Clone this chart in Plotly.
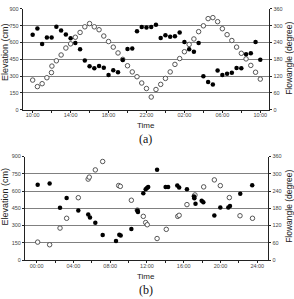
import plotly.graph_objects as go

# ---------------- data: panel (a) ----------------
a_open_time = [0, 0.5, 1, 1.5, 1.98, 2.03, 2.5, 3, 3.5, 4, 4.5, 5, 5.5, 6, 6.5, 7, 7.5, 8, 8.5, 9,
               9.5, 10, 10.5, 11, 11.5, 12, 12.5, 13, 13.5, 14, 14.5, 15, 15.5, 16, 16.5, 17, 17.5,
               18, 18.5, 19, 19.5, 20, 20.5, 21, 21.5, 22, 22.5, 23, 23.5, 24]
a_elevation = [265, 207, 233, 286, 332, 390, 437, 489, 551, 588, 647, 690, 740, 769, 740, 714, 658,
               609, 559, 507, 450, 393, 338, 295, 239, 190, 114, 181, 227, 280, 338, 405, 457, 518,
               583, 632, 697, 749, 813, 822, 786, 723, 670, 618, 559, 504, 454, 396, 335, 274]
a_fill_time = [0, 0.5, 1, 1.5, 2, 2.5, 3, 3.5, 4, 4.5, 5, 5.5, 6, 6.5, 7, 7.5, 8, 8.5, 9, 9.5,
               10, 10.5, 11, 11.5, 12, 12.5, 13, 13.5, 14, 14.5, 15, 15.5, 16, 16.5, 17, 17.5,
               18, 18.5, 19, 19.5, 20, 20.5, 21, 21.5, 22, 22.5, 23, 23.5, 24]
a_flowangle = [268, 290, 235, 258, 258, 296, 283, 269, 255, 238, 216, 176, 155, 148, 156, 150, 124,
               141, 134, 178, 217, 219, 280, 295, 294, 295, 303, 256, 266, 261, 262, 276, 242, 216,
               207, 238, 120, 99, 90, 140, 124, 129, 132, 149, 148, 198, 202, 242, 179]
a_tickvals = [0, 4, 8, 12, 16, 20, 24]
a_ticktext = ["10:00", "14:00", "18:00", "22:00", "02:00", "06:00", "10:00"]

# ---------------- data: panel (b) ----------------
b_open_time = [0.11, 1.41, 2.54, 3.26, 4.53, 5.60, 5.72, 6.38, 7.18, 8.92, 9.10, 10.30, 10.95,
               11.60, 11.86, 12.03, 13.10, 14.10, 15.35, 15.50, 16.35, 17.15, 17.22, 18.17, 19.33,
               19.98, 20.96, 22.12, 23.48]
b_elevation = [156, 133, 278, 363, 542, 704, 721, 784, 857, 648, 641, 520, 434, 380, 326, 307, 187,
               267, 380, 389, 482, 556, 566, 636, 697, 647, 543, 385, 363]
b_fill_time = [0.11, 1.41, 2.54, 3.26, 4.53, 5.61, 5.80, 6.38, 7.18, 8.63, 8.99, 9.14, 10.30, 10.95,
               11.02, 11.60, 11.86, 12.00, 12.13, 13.10, 14.03, 14.30, 15.30, 15.50, 16.35, 17.12,
               17.15, 17.28, 17.95, 18.13, 19.33, 19.98, 20.85, 21.03, 22.15, 23.45]
b_flowangle = [262, 266, 182, 216, 172, 158, 148, 130, 87, 66, 88, 85, 108, 172, 167, 232, 246, 251,
               254, 314, 254, 254, 259, 252, 246, 221, 215, 196, 206, 201, 155, 183, 183, 188, 231, 260]
b_tickvals = [0, 4, 8, 12, 16, 20, 24]
b_ticktext = ["00:00", "04:00", "08:00", "12:00", "16:00", "20:00", "24:00"]

elev_ticks = [0, 150, 300, 450, 600, 750, 900]
angle_ticks = [0, 60, 120, 180, 240, 300, 360]

W, H = 294, 299
TICKFONT = dict(family="Liberation Sans", size=5.5, color="#444")
LABFONT = dict(family="Liberation Sans", size=9, color="#222")

open_marker = dict(symbol="circle", size=4.5, color="white", line=dict(color="#555", width=1))
fill_marker = dict(symbol="circle", size=4.5, color="black", line=dict(color="black", width=0))

fig = go.Figure()
fig.add_trace(go.Scatter(x=a_open_time, y=a_elevation, mode="markers", marker=open_marker,
                         xaxis="x", yaxis="y", showlegend=False))
fig.add_trace(go.Scatter(x=a_fill_time, y=a_flowangle, mode="markers", marker=fill_marker,
                         xaxis="x", yaxis="y2", showlegend=False))
fig.add_trace(go.Scatter(x=b_open_time, y=b_elevation, mode="markers", marker=open_marker,
                         xaxis="x2", yaxis="y3", showlegend=False))
fig.add_trace(go.Scatter(x=b_fill_time, y=b_flowangle, mode="markers", marker=fill_marker,
                         xaxis="x2", yaxis="y4", showlegend=False))


def xax(domain, rng, anchor, tv, tt):
    return dict(domain=domain, range=rng, anchor=anchor, tickvals=tv, ticktext=tt,
                showline=True, linecolor="#222", linewidth=1, ticks="outside", ticklen=2,
                tickcolor="#222", tickfont=TICKFONT, showgrid=False, zeroline=False,
                ticklabelstandoff=-2,
                minor=dict(tickmode="linear", tick0=0, dtick=2, ticks="outside", ticklen=2,
                           tickcolor="#222", showgrid=False))


def yleft(domain, anchor):
    return dict(domain=domain, range=[0, 900], anchor=anchor, tickvals=elev_ticks,
                showline=True, linecolor="#222", linewidth=1, ticks="outside", ticklen=2,
                tickcolor="#222", tickfont=TICKFONT, showgrid=True, gridcolor="#808080",
                gridwidth=1, zeroline=False)


def yright(overlay, anchor):
    return dict(overlaying=overlay, side="right", anchor=anchor, range=[0, 360],
                tickvals=angle_ticks, showline=True, linecolor="#222", linewidth=1,
                ticks="outside", ticklen=2, tickcolor="#222", tickfont=TICKFONT,
                showgrid=False, zeroline=False)


ya = [1 - 109 / H, 1 - 6 / H]
yb = [1 - 262.3 / H, 1 - 156.7 / H]
fig.update_layout(
    width=W, height=H, autosize=False,
    margin=dict(l=0, r=0, t=0, b=0),
    paper_bgcolor="white", plot_bgcolor="white",
    xaxis=xax([22.7 / W, 269.3 / W], [-1.05, 24.95], "y", a_tickvals, a_ticktext),
    yaxis=yleft(ya, "x"),
    yaxis2=yright("y", "x"),
    xaxis2=xax([25 / W, 268.3 / W], [-1.27, 25.2], "y3", b_tickvals, b_ticktext),
    yaxis3=yleft(yb, "x2"),
    yaxis4=yright("y3", "x2"),
)


def ann(text, x, y, font, angle=0):
    fig.add_annotation(text=text, x=x / W, y=1 - y / H, xref="paper", yref="paper",
                       showarrow=False, font=font, textangle=angle,
                       xanchor="center", yanchor="middle")


for (ey, fy, ty, py, lab) in [(50, 57, 124.5, 138.5, "(a)"), (197.5, 208, 279.5, 292.5, "(b)")]:
    ann("Elevation (cm)", 5, ey, LABFONT, -90)
    ann("Flowangle (degree)", 289, fy, dict(family="Liberation Sans", size=8.5, color="#222"), -90)
    ann("Time", 146, ty, dict(family="Liberation Sans", size=8, color="#222"))
    ann(lab, 145.5, py, dict(family="Liberation Serif", size=12, color="#111"))

fig.write_html("out.html")
